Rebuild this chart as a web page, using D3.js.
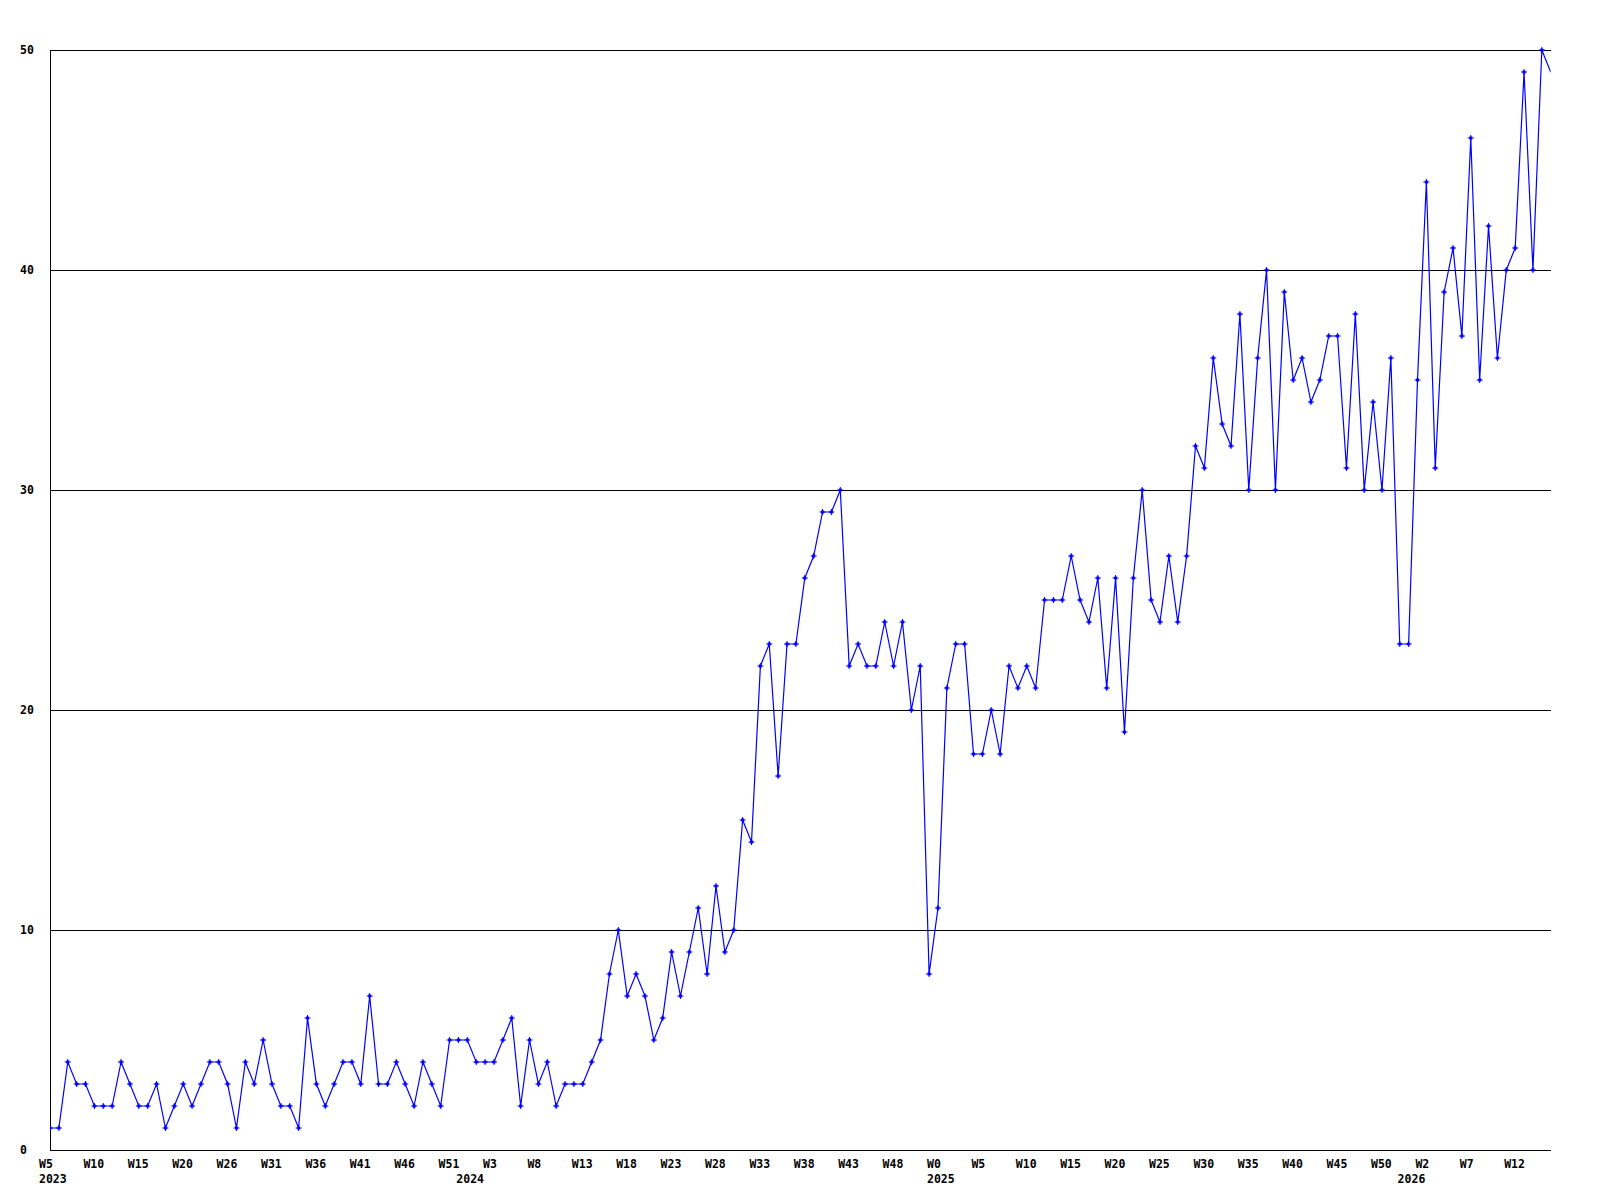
<!DOCTYPE html>
<html>
<head>
<meta charset="utf-8">
<script src="https://cdn.jsdelivr.net/npm/d3@7"></script>
<style>
  html, body { margin: 0; padding: 0; background: #ffffff; }
  svg { display: block; }
  text { font-family: "DejaVu Sans Mono", "Liberation Mono", monospace; font-weight: bold; font-size: 11.5px; fill: #000; }
</style>
</head>
<body>
<svg id="chart" width="1600" height="1200"></svg>
<script>
// Weekly values, 2023 W5 .. 2026 W14
const values = [
  1, 1, 4, 3, 3, 2, 2, 2, 4, 3,
  2, 2, 3, 1, 2, 3, 2, 3, 4, 4,
  3, 1, 4, 3, 5, 3, 2, 2, 1, 6,
  3, 2, 3, 4, 4, 3, 7, 3, 3, 4,
  3, 2, 4, 3, 2, 5, 5, 5, 4, 4,
  4, 5, 6, 2, 5, 3, 4, 2, 3, 3,
  3, 4, 5, 8, 10, 7, 8, 7, 5, 6,
  9, 7, 9, 11, 8, 12, 9, 10, 15, 14,
  22, 23, 17, 23, 23, 26, 27, 29, 29, 30,
  22, 23, 22, 22, 24, 22, 24, 20, 22, 8,
  11, 21, 23, 23, 18, 18, 20, 18, 22, 21,
  22, 21, 25, 25, 25, 27, 25, 24, 26, 21,
  26, 19, 26, 30, 25, 24, 27, 24, 27, 32,
  31, 36, 33, 32, 38, 30, 36, 40, 30, 39,
  35, 36, 34, 35, 37, 37, 31, 38, 30, 34,
  30, 36, 23, 23, 35, 44, 31, 39, 41, 37,
  46, 35, 42, 36, 40, 41, 49, 40, 50, 49
];

// Week tick labels, one every 5 points
const weekTickIndex = [0, 5, 10, 15, 20, 25, 30, 35, 40, 45, 50, 55, 60, 65, 70, 75, 80, 85, 90, 95, 100, 105, 110, 115, 120, 125, 130, 135, 140, 145, 150, 155, 160, 165];
const weekTickText  = ["W5", "W10", "W15", "W20", "W26", "W31", "W36", "W41", "W46", "W51", "W3", "W8", "W13", "W18", "W23", "W28", "W33", "W38", "W43", "W48", "W0", "W5", "W10", "W15", "W20", "W25", "W30", "W35", "W40", "W45", "W50", "W2", "W7", "W12"];

// Year labels and the point index where each year starts
const yearIndex = [0, 47, 100, 153];
const yearText  = ["2023", "2024", "2025", "2026"];

// Y axis ticks
const yTicks = [0, 10, 20, 30, 40, 50];

(function () {
const svg = d3.select("#chart");
const pLeft = 50, pRight = 1550.7, pTop = 50, pBottom = 1150;

const x = d3.scaleLinear().domain([0, values.length - 1]).range([pLeft, pRight]);
const y = d3.scaleLinear().domain([0, 50]).range([pBottom, pTop]);

// Gridlines
svg.append("g").selectAll("line").data(yTicks.filter(d => d > 0)).join("line")
  .attr("x1", pLeft).attr("x2", pRight)
  .attr("y1", d => Math.round(y(d)) + 0.5).attr("y2", d => Math.round(y(d)) + 0.5)
  .attr("stroke", "#000").attr("stroke-width", 1).attr("shape-rendering", "crispEdges");

// Axes lines
svg.append("line").attr("x1", pLeft).attr("x2", pRight)
  .attr("y1", pBottom + 0.5).attr("y2", pBottom + 0.5)
  .attr("stroke", "#000").attr("shape-rendering", "crispEdges");
svg.append("line").attr("x1", pLeft + 0.5).attr("x2", pLeft + 0.5)
  .attr("y1", pTop).attr("y2", pBottom + 1)
  .attr("stroke", "#000").attr("shape-rendering", "crispEdges");

// Y labels
svg.append("g").selectAll("text").data(yTicks).join("text")
  .attr("x", 20)
  .attr("y", d => y(d) + 4)
  .text(d => d);

// X week labels
svg.append("g").selectAll("text").data(weekTickIndex).join("text")
  .attr("x", d => x(d) - 11)
  .attr("y", 1168)
  .text((d, i) => weekTickText[i]);

// Year labels
svg.append("g").selectAll("text").data(yearIndex).join("text")
  .attr("x", d => x(d) - 11)
  .attr("y", 1183)
  .text((d, i) => yearText[i]);

// Clip to plot area
svg.append("clipPath").attr("id", "plotclip")
  .append("rect").attr("x", pLeft).attr("y", pTop - 5).attr("width", pRight - pLeft).attr("height", pBottom - pTop + 10);

const plot = svg.append("g").attr("clip-path", "url(#plotclip)");

const line = d3.line().x((d, i) => x(i)).y(d => y(d));
plot.append("path").datum(values)
  .attr("d", line)
  .attr("fill", "none")
  .attr("stroke", "#0000ff")
  .attr("stroke-width", 1.2);

// Markers (last point is cut off at the plot edge)
const marker = "M-0.5,-3H0.5V-1.5H1.5V-0.5H3V0.5H1.5V1.5H0.5V3H-0.5V1.5H-1.5V0.5H-3V-0.5H-1.5V-1.5H-0.5Z";
plot.append("g").selectAll("path").data(values.slice(0, values.length - 1)).join("path")
  .attr("transform", (d, i) => `translate(${x(i)},${y(d)})`)
  .attr("d", marker)
  .attr("fill", "#0000ff");
})();
</script>
</body>
</html>
